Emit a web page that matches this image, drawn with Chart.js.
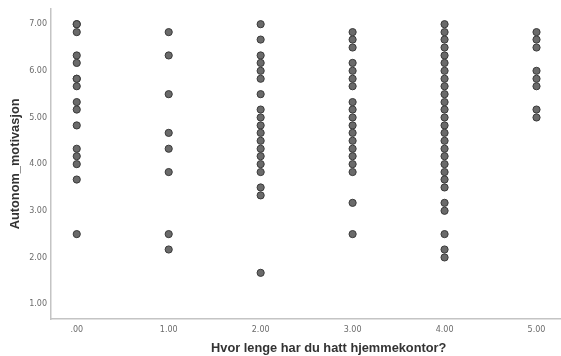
<!DOCTYPE html>
<html lang="no">
<head>
    <meta charset="UTF-8">
    <title>Autonom motivasjon vs hjemmekontor</title>
    <script src="https://cdn.jsdelivr.net/npm/chart.js"></script>
    <style>
        body {
            margin: 0;
            background: #fff;
            overflow: hidden;
        }
        /* the plot runs past the right edge of the window, as in the original crop */
        #wrap {
            width: 611px;
            height: 356px;
        }
    </style>
</head>
<body>
    <div id="wrap"><canvas id="scatter"></canvas></div>

    <script>
        // x categories (years of home office) and the y values read at each
        const xGroups = [0, 1, 2, 3, 4, 5];
        const yAt0 = [7.00, 7.00, 6.83, 6.33, 6.17, 5.83, 5.83, 5.67, 5.33, 5.17, 4.83, 4.33, 4.17, 4.00, 3.67, 2.50];
        const yAt1 = [6.83, 6.33, 5.50, 4.67, 4.33, 3.83, 2.50, 2.17];
        const yAt2 = [7.00, 6.67, 6.33, 6.17, 6.00, 5.83, 5.50, 5.17, 5.00, 4.83, 4.67, 4.50, 4.33, 4.17, 4.00, 3.83, 3.50, 3.33, 1.67];
        const yAt3 = [6.83, 6.67, 6.50, 6.17, 6.00, 5.83, 5.67, 5.33, 5.17, 5.00, 4.83, 4.67, 4.50, 4.33, 4.17, 4.00, 3.83, 3.17, 2.50];
        const yAt4 = [7.00, 6.83, 6.67, 6.50, 6.33, 6.17, 6.00, 5.83, 5.67, 5.50, 5.33, 5.17, 5.00, 4.83, 4.67, 4.50, 4.33, 4.17, 4.00, 3.83, 3.67, 3.50, 3.17, 3.00, 2.50, 2.17, 2.00];
        const yAt5 = [6.83, 6.67, 6.50, 6.00, 5.83, 5.67, 5.17, 5.00];

        const xTicks = [0, 1, 2, 3, 4, 5];
        const xTickLabels = ['.00', '1.00', '2.00', '3.00', '4.00', '5.00'];
        const yTicks = [1, 2, 3, 4, 5, 6, 7];
        const yTickLabels = ['1.00', '2.00', '3.00', '4.00', '5.00', '6.00', '7.00'];

        const columns = [yAt0, yAt1, yAt2, yAt3, yAt4, yAt5];
        const points = [];
        columns.forEach((col, i) => {
            col.forEach(v => points.push({ x: xGroups[i], y: v }));
        });

        const axisGrey = '#c4c4c4';
        const tickFont = { family: 'DejaVu Sans', size: 8 };
        const titleFont = { family: 'Liberation Sans', size: 12.8, weight: 'bold' };

        new Chart(document.getElementById('scatter'), {
            type: 'scatter',
            data: {
                datasets: [{
                    data: points,
                    backgroundColor: '#6a6a6a',
                    borderColor: '#3a3a3a',
                    borderWidth: 1,
                    pointRadius: 3.6,
                    pointHoverRadius: 3.6
                }]
            },
            options: {
                responsive: true,
                maintainAspectRatio: false,
                animation: false,
                layout: { padding: { top: 7, right: 0, left: 0, bottom: 0 } },
                plugins: {
                    legend: { display: false },
                    tooltip: { enabled: false }
                },
                scales: {
                    x: {
                        type: 'linear',
                        min: -0.28,
                        max: 5.76,
                        grid: { display: false, drawTicks: false },
                        border: { display: true, color: axisGrey, width: 1.5 },
                        afterBuildTicks: s => { s.ticks = xTicks.map(v => ({ value: v })); },
                        afterFit: s => { s.height = 37; },
                        ticks: {
                            autoSkip: false,
                            maxRotation: 0,
                            padding: 6,
                            color: '#6b6b6b',
                            font: tickFont,
                            callback: (v) => xTickLabels[xTicks.indexOf(v)]
                        },
                        title: {
                            display: true,
                            text: 'Hvor lenge har du hatt hjemmekontor?',
                            color: '#333',
                            font: titleFont,
                            padding: { top: 0, bottom: 0 }
                        }
                    },
                    y: {
                        type: 'linear',
                        min: 0.68,
                        max: 7.33,
                        grid: { display: false, drawTicks: false },
                        border: { display: true, color: axisGrey, width: 1.5 },
                        afterBuildTicks: s => { s.ticks = yTicks.map(v => ({ value: v })); },
                        afterFit: s => { s.width = 51; },
                        ticks: {
                            padding: 4,
                            color: '#6b6b6b',
                            font: tickFont,
                            callback: (v) => yTickLabels[yTicks.indexOf(v)]
                        },
                        title: {
                            display: true,
                            text: 'Autonom_motivasjon',
                            color: '#333',
                            font: titleFont,
                            padding: { top: 8, bottom: 0 }
                        }
                    }
                }
            }
        });
    </script>
</body>
</html>
